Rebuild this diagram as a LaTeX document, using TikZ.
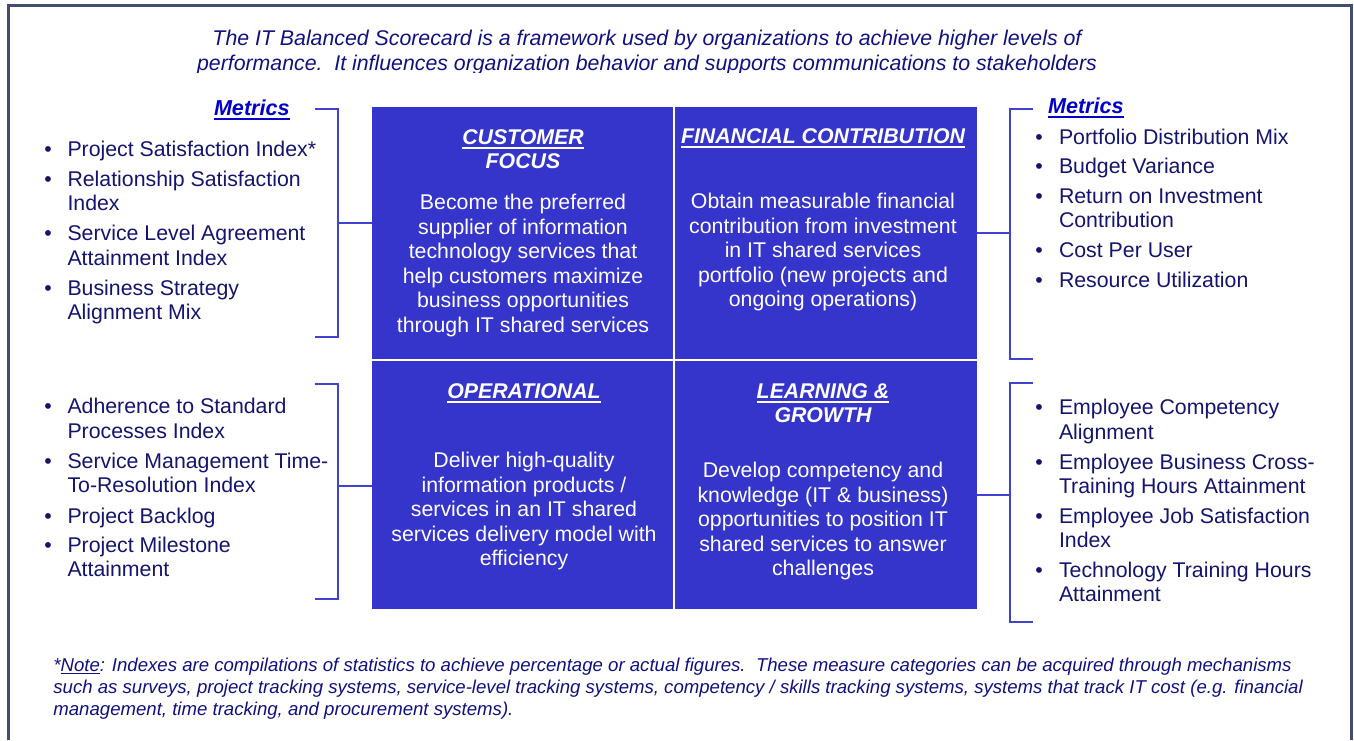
\documentclass[tikz,border=0pt]{standalone}
\usepackage{fontspec}
\setmainfont{Liberation Sans}
\newcommand\ulword[1]{\setbox0\hbox{#1}\rlap{\rule[-2pt]{\wd0}{1pt}}\box0}
\newcommand\ulthin[1]{\setbox0\hbox{#1}\rlap{\rule[-1.4pt]{\wd0}{0.55pt}}\box0}
\definecolor{navytext}{RGB}{20,20,110}
\definecolor{titlenavy}{RGB}{16,16,128}
\definecolor{metricblue}{RGB}{0,0,200}
\definecolor{blockblue}{RGB}{53,53,203}
\definecolor{bracketblue}{RGB}{66,66,210}
\definecolor{framegray}{RGB}{66,78,112}
\begin{document}
\begin{tikzpicture}[x=0.5pt,y=-0.5pt,
  txt/.style={inner sep=0pt, outer sep=0pt, font=\fontsize{10.65}{12.3}\selectfont},
  item/.style={txt, anchor=base west, text=navytext},
  dot/.style={txt, anchor=base west, text=navytext},
  celltext/.style={txt, anchor=base, text=white},
  cellhead/.style={txt, anchor=base, text=white, font=\fontsize{10.65}{12.3}\selectfont\bfseries\itshape},
  metrics/.style={txt, anchor=base west, text=metricblue, font=\fontsize{10.8}{12.3}\selectfont\bfseries\itshape},
  cell/.style={fill=blockblue, draw=none, inner sep=0pt, outer sep=0pt},
  bracket/.style={draw=bracketblue, line width=1pt},
  divider/.style={draw=white, line width=1pt},
  titletxt/.style={inner sep=0pt, anchor=base, text=titlenavy, font=\fontsize{10.65}{12.3}\selectfont\itshape},
  notetxt/.style={inner sep=0pt, anchor=base west, text=titlenavy, font=\fontsize{9.3}{11}\selectfont\itshape},
]
\useasboundingbox (0,0) rectangle (1354,740);

% outer frame (open at the bottom edge of the page)
\draw[framegray, line width=1.5pt] (8,740) -- (8,5) -- (1351,5) -- (1351,740);

% title, trimmed at its lower edge
\begin{scope}
  \clip (0,0) rectangle (1354,72);
  \node[titletxt] (title1) at (647,45.5) {The IT Balanced Scorecard is a framework used by organizations to achieve higher levels of};
  \node[titletxt] (title2) at (647,70) {performance.\ \ It influences organization behavior and supports communications to stakeholders};
\end{scope}

% the four scorecard cells
\node[cell, minimum width=151pt, minimum height=126.5pt] (cf) at (523,233.5) {};
\node[cell, minimum width=151.5pt, minimum height=126.5pt] (fc) at (825.5,233.5) {};
\node[cell, minimum width=151pt, minimum height=124.5pt] (op) at (523,484.5) {};
\node[cell, minimum width=151.5pt, minimum height=124.5pt] (lg) at (825.5,484.5) {};
\draw[divider] (cf.north east) -- (op.south east);
\draw[divider] (cf.south west) -- (fc.south east);

% customer focus
\node[cellhead] (cfh1) at (523,144.5) {\ulword{CUSTOMER}};
\node[cellhead] (cfh2) at (523,168) {FOCUS};
\foreach \tt [count=\i] in {{Become the preferred},{supplier of information},{technology services that},{help customers maximize},{business opportunities},{through IT shared services}}
  \node[celltext] (cfb\i) at (523,{209.5+(\i-1)*24.6}) {\tt};

% financial contribution
\node[cellhead] (fch1) at (823,143.5) {\ulword{FINANCIAL CONTRIBUTION}};
\foreach \tt [count=\i] in {{Obtain measurable financial},{contribution from investment},{in IT shared services},{portfolio (new projects and},{ongoing operations)}}
  \node[celltext] (fcb\i) at (823,{208.5+(\i-1)*24.5}) {\tt};

% operational
\node[cellhead] (oph1) at (524,398.5) {\ulword{OPERATIONAL}};
\foreach \tt [count=\i] in {{Deliver high-quality},{information products /},{services in an IT shared},{services delivery model with},{efficiency}}
  \node[celltext] (opb\i) at (524,{467.5+(\i-1)*24.5}) {\tt};

% learning and growth
\node[cellhead] (lgh1) at (823,398.5) {\ulword{LEARNING \&}};
\node[cellhead] (lgh2) at (823,422.5) {GROWTH};
\foreach \tt [count=\i] in {{Develop competency and},{knowledge (IT \& business)},{opportunities to position IT},{shared services to answer},{challenges}}
  \node[celltext] (lgb\i) at (823,{477.5+(\i-1)*24.5}) {\tt};

% metrics headings
\node[metrics] (mleft) at (214,115.5) {\ulword{Metrics}};
\node[metrics] (mright) at (1048,113.5) {\ulword{Metrics}};

% left upper metrics
\foreach \yy/\tt [count=\i] in {156/{Project Satisfaction Index*},186/{Relationship Satisfaction},210.5/{Index},240.5/{Service Level Agreement},265/{Attainment Index},295/{Business Strategy},319.5/{Alignment Mix}}
  \node[item] (la\i) at (67.5,\yy) {\tt};
\foreach \yy [count=\i] in {156,186,240.5,295}
  \node[dot] (lad\i) at (44.3,\yy) {•};

% left lower metrics
\foreach \yy/\tt [count=\i] in {413.5/{Adherence to Standard},438/{Processes Index},468.5/{Service Management Time-},492.5/{To-Resolution Index},523/{Project Backlog},552/{Project Milestone},576.5/{Attainment}}
  \node[item] (lb\i) at (67.5,\yy) {\tt};
\foreach \yy [count=\i] in {413.5,468.5,523,552}
  \node[dot] (lbd\i) at (44.3,\yy) {•};

% right upper metrics
\foreach \yy/\tt [count=\i] in {144/{Portfolio Distribution Mix},173.5/{Budget Variance},203.5/{Return on Investment},227.5/{Contribution},257/{Cost Per User},287/{Resource Utilization}}
  \node[item] (ra\i) at (1059,\yy) {\tt};
\foreach \yy [count=\i] in {144,173.5,203.5,257,287}
  \node[dot] (rad\i) at (1035.3,\yy) {•};

% right lower metrics
\foreach \yy/\tt [count=\i] in {414/{Employee Competency},439/{Alignment},469/{Employee Business Cross-},493/{Training Hours Attainment},523/{Employee Job Satisfaction},547/{Index},577/{Technology Training Hours},601.5/{Attainment}}
  \node[item] (rb\i) at (1059,\yy) {\tt};
\foreach \yy [count=\i] in {414,469,523,577}
  \node[dot] (rbd\i) at (1035.3,\yy) {•};

% brackets and their links to the cells
\coordinate (lat) at (315,109);  \coordinate (lab) at (315,337);  \coordinate (lam) at (338,223);
\coordinate (lbt) at (315,384);  \coordinate (lbb) at (315,599);  \coordinate (lbm) at (338,486);
\coordinate (rat) at (1033,109); \coordinate (rab) at (1033,359); \coordinate (ram) at (1010,233);
\coordinate (rbt) at (1033,383); \coordinate (rbb) at (1033,622); \coordinate (rbm) at (1010,495);
\draw[bracket] (lat) -| (lam) |- (lab);
\draw[bracket] (lbt) -| (lbm) |- (lbb);
\draw[bracket] (rat) -| (ram) |- (rab);
\draw[bracket] (rbt) -| (rbm) |- (rbb);
\draw[bracket] (lam) -- (lam -| cf.west);
\draw[bracket] (lbm) -- (lbm -| op.west);
\draw[bracket] (ram) -- (ram -| fc.east);
\draw[bracket] (rbm) -- (rbm -| lg.east);

% footnote
\node[notetxt] (note1) at (53,671) {*\ulthin{Note}: Indexes are compilations of statistics to achieve percentage or actual figures.\ \ These measure categories can be acquired through mechanisms};
\node[notetxt] (note2) at (53,693.5) {such as surveys, project tracking systems, service-level tracking systems, competency / skills tracking systems, systems that track IT cost (e.g. financial};
\node[notetxt] (note3) at (53,715.5) {management, time tracking, and procurement systems).};
\end{tikzpicture}
\end{document}
